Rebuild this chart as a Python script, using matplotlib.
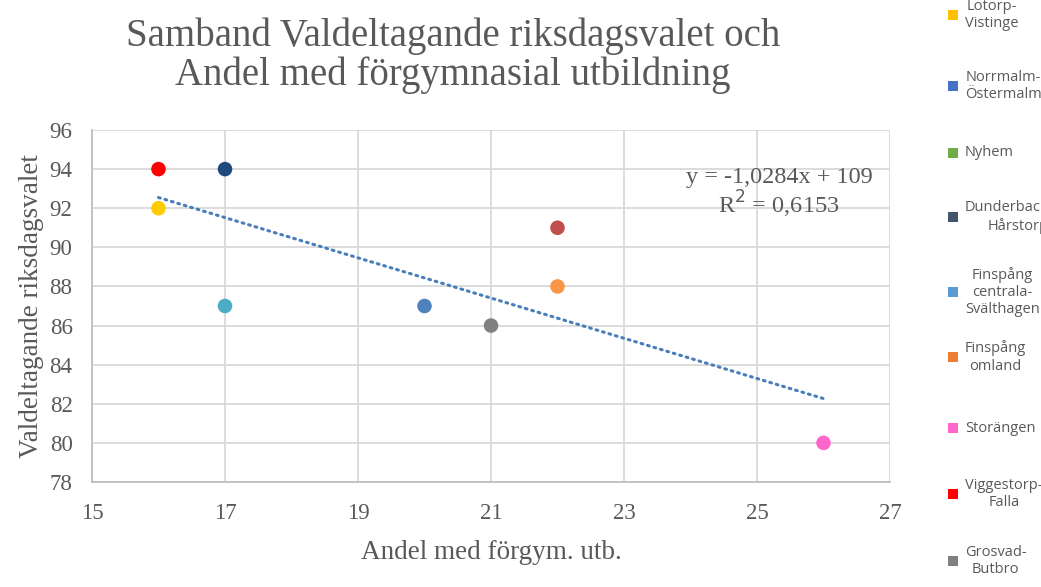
import numpy as np
import matplotlib
matplotlib.use('Agg')
import matplotlib.pyplot as plt
from matplotlib.patches import Rectangle

# andel med förgymnasial utbildning (x) och valdeltagande (y) per område
areas = ['Lotorp-\nVistinge', 'Norrmalm-\nÖstermalm', 'Nyhem', 'Dunderbacken-\nHårstorp',
         'Finspång\ncentrala-\nSvälthagen', 'Finspång\nomland', 'Storängen',
         'Viggestorp-\nFalla', 'Grosvad-\nButbro']
x_vals = [16, 20, 22, 17, 17, 22, 26, 16, 21]
y_vals = [92, 87, 91, 94, 87, 88, 80, 94, 86]
point_colors = ['#FFCC00', '#4F81BD', '#C0504D', '#1F497D', '#4BACC6',
                '#F79646', '#FF66CC', '#FF0000', '#808080']
legend_colors = ['#FFC000', '#4472C4', '#70AD47', '#44546A', '#5B9BD5',
                 '#ED7D31', '#FF66CC', '#FF0000', '#808080']
x_ticks = [15, 17, 19, 21, 23, 25, 27]
y_ticks = [78, 80, 82, 84, 86, 88, 90, 92, 94, 96]

TXT = '#595959'
SERIF = 'Liberation Serif'

fig = plt.figure(figsize=(10.41, 5.87), dpi=100)
ax = fig.add_axes([92 / 1041, 1 - 482 / 587, (890 - 92) / 1041, (482 - 130) / 587])

ax.scatter(x_vals, y_vals, s=110, c=point_colors, zorder=3, linewidths=0)

# linjär trendlinje
k, m = np.polyfit(x_vals, y_vals, 1)
pred = np.polyval([k, m], x_vals)
r2 = 1 - np.sum((np.array(y_vals) - pred) ** 2) / np.sum((np.array(y_vals) - np.mean(y_vals)) ** 2)
xt = np.array([min(x_vals), max(x_vals)])
ax.plot(xt, k * xt + m, color='#4A7EBB', linewidth=2.2, linestyle=(0, (0.6, 1.6)),
        dash_capstyle='round', zorder=2)
eq = f"y = {k:.4f}x + {m:.0f}".replace('.', ',') + "\n" + f"R$^2$ = {r2:.4f}".replace('.', ',')
ax.text(25.33, 92.75, eq, ha='center', va='center', fontsize=17.5, color=TXT,
        family=SERIF, linespacing=1.0, zorder=4)

ax.set_xlim(15, 27)
ax.set_ylim(78, 96)
ax.set_xticks(x_ticks)
ax.set_yticks(y_ticks)
ax.grid(True, color='#D9D9D9', linewidth=1.3)
ax.set_axisbelow(True)
for s in ['top', 'right']:
    ax.spines[s].set_visible(False)
for s in ['left', 'bottom']:
    ax.spines[s].set_color('#BFBFBF')
    ax.spines[s].set_linewidth(1.3)
ax.tick_params(length=0, labelsize=16.5, labelcolor=TXT)
ax.tick_params(axis='x', pad=15)
ax.tick_params(axis='y', pad=14)
for lab in ax.get_xticklabels() + ax.get_yticklabels():
    lab.set_family(SERIF)
ax.set_xlabel('Andel med förgym. utb.', fontsize=19.5, color=TXT, family=SERIF)
ax.set_ylabel('Valdeltagande riksdagsvalet', fontsize=19.5, color=TXT, family=SERIF)
ax.xaxis.set_label_coords(0.5, -0.165)
ax.yaxis.set_label_coords(-0.060, 0.5)

fig.text(453 / 1041, 1 - 56 / 587, 'Samband Valdeltagande riksdagsvalet och\nAndel med förgymnasial utbildning',
         ha='center', va='center', fontsize=28, color=TXT, family=SERIF, linespacing=1.05)

# legend, manuellt placerad och avklippt i högerkanten som i originalet
leg_y = [15, 86, 153, 217, 292, 357, 428, 494, 561]
for name, col, yy in zip(areas, legend_colors, leg_y):
    fig.patches.append(Rectangle((948 / 1041, 1 - (yy + 5) / 587), 10 / 1041, 10 / 587,
                                 transform=fig.transFigure, facecolor=col, edgecolor='none'))
    fig.text(965 / 1041, 1 - yy / 587, name, ha='left', va='center', fontsize=10.5,
             color=TXT, family='Open Sans', multialignment='center', linespacing=1.22)

fig.savefig('out.png', dpi=100)
